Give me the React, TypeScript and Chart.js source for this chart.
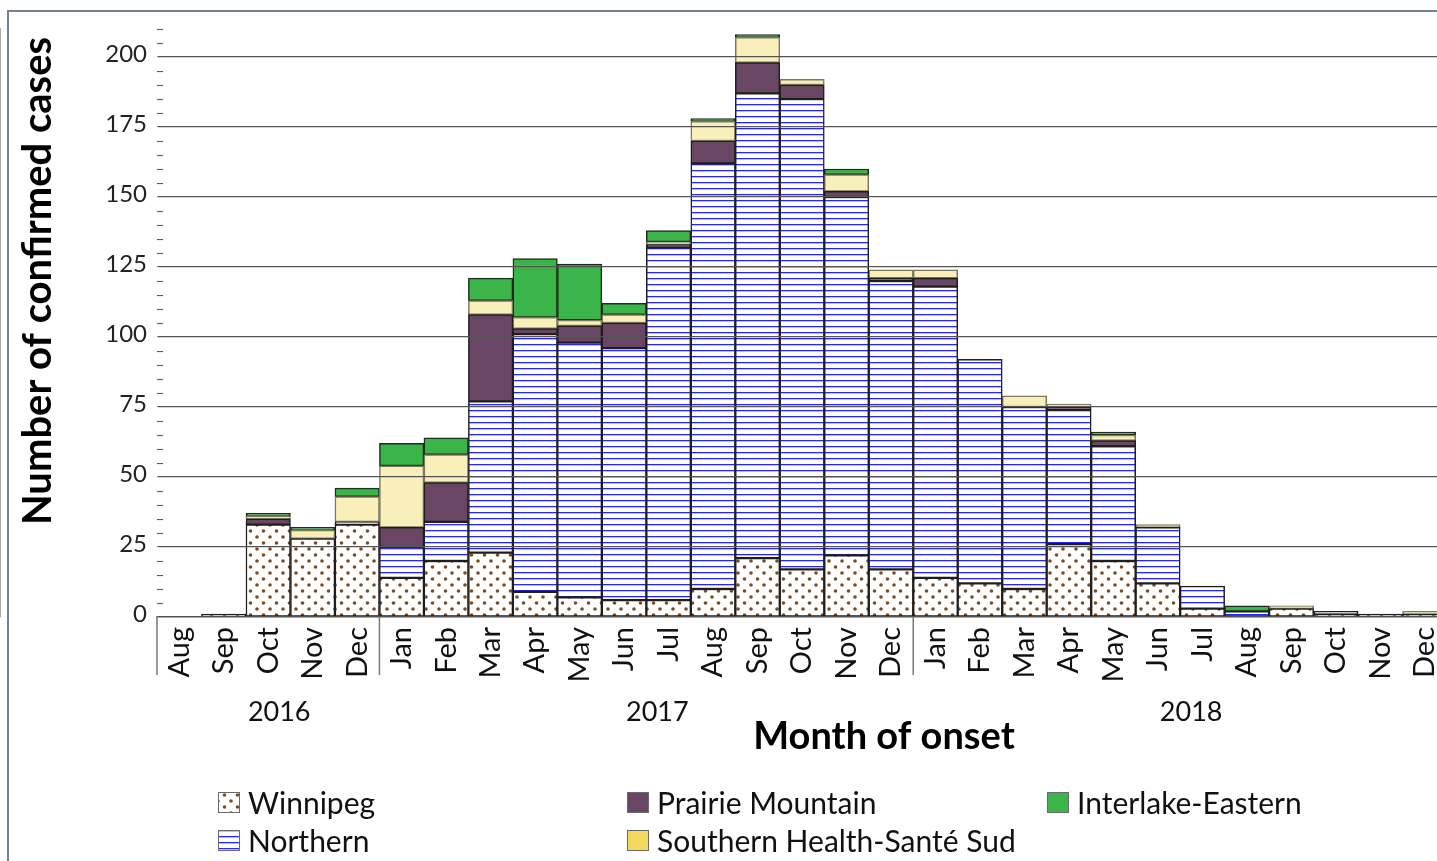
import React, { useEffect, useRef } from "react";
import { Chart, registerables } from "chart.js";

Chart.register(...registerables);

const months = ["Aug", "Sep", "Oct", "Nov", "Dec", "Jan", "Feb", "Mar", "Apr", "May", "Jun", "Jul", "Aug", "Sep", "Oct", "Nov", "Dec", "Jan", "Feb", "Mar", "Apr", "May", "Jun", "Jul", "Aug", "Sep", "Oct", "Nov", "Dec"];
const yearLabels = ["2016", "2017", "2018"];
const monthsPerYear = [5, 12, 12];

const winnipeg = [0, 1, 33, 28, 33, 14, 20, 23, 9, 7, 6, 6, 10, 21, 17, 22, 17, 14, 12, 10, 26, 20, 12, 3, 0, 3, 1, 1, 1];
const northern = [0, 0, 0, 0, 1, 11, 14, 54, 92, 91, 90, 126, 152, 166, 168, 128, 103, 104, 80, 65, 48, 41, 20, 8, 2, 0, 1, 0, 0];
const prairieMountain = [0, 0, 2, 0, 0, 7, 14, 31, 2, 6, 9, 1, 8, 11, 5, 2, 1, 3, 0, 0, 1, 2, 0, 0, 0, 0, 0, 0, 0];
const southernHealth = [0, 0, 1, 3, 9, 22, 10, 5, 4, 2, 3, 1, 7, 9, 2, 6, 3, 3, 0, 4, 1, 2, 1, 0, 0, 1, 0, 0, 1];
const interlakeEastern = [0, 0, 1, 1, 3, 8, 6, 8, 21, 20, 4, 4, 1, 1, 0, 2, 0, 0, 0, 0, 0, 1, 0, 0, 2, 0, 0, 0, 0];

const yTicks = [0, 25, 50, 75, 100, 125, 150, 175, 200];
const yMax = 210;

const FONT = "Lato";

export default function App() {
  const ref = useRef<HTMLCanvasElement>(null);

  useEffect(() => {
    const canvas = ref.current!;
    const ctx = canvas.getContext("2d")!;

    const dotTile = document.createElement("canvas");
    dotTile.width = 13;
    dotTile.height = 12;
    const dt = dotTile.getContext("2d")!;
    dt.fillStyle = "#ffffff";
    dt.fillRect(0, 0, 13, 12);
    dt.fillStyle = "#7b4a22";
    dt.beginPath();
    dt.arc(3.5, 3, 1.8, 0, Math.PI * 2);
    dt.fill();
    dt.beginPath();
    dt.arc(10, 9, 1.8, 0, Math.PI * 2);
    dt.fill();
    const dotPattern = ctx.createPattern(dotTile, "repeat")!;

    const lineTile = document.createElement("canvas");
    lineTile.width = 8;
    lineTile.height = 6;
    const lt = lineTile.getContext("2d")!;
    lt.fillStyle = "#ffffff";
    lt.fillRect(0, 0, 8, 6);
    lt.fillStyle = "#2525ff";
    lt.fillRect(0, 2, 8, 1.3);
    const linePattern = ctx.createPattern(lineTile, "repeat")!;

    const series = [
      { label: "Winnipeg", data: winnipeg, bg: dotPattern, border: "#1e1e1e", legendBg: dotPattern },
      { label: "Northern", data: northern, bg: linePattern, border: "#1e1e1e", legendBg: linePattern },
      { label: "Prairie Mountain", data: prairieMountain, bg: "#694663", border: "#1e1e1e", legendBg: "#694663" },
      { label: "Southern Health-Santé Sud", data: southernHealth, bg: "#f8efbb", border: "#7d775c", legendBg: "#f2d95e" },
      { label: "Interlake-Eastern", data: interlakeEastern, bg: "#3bb54a", border: "#1e2e1e", legendBg: "#3bb54a" },
    ];

    const legendPos = [
      { x: 218, y: 792 },
      { x: 218, y: 830 },
      { x: 627, y: 792 },
      { x: 627, y: 830 },
      { x: 1047, y: 792 },
    ];

    const decor = {
      id: "decor",
      afterDraw(chart: any) {
        const c = chart.ctx;
        const area = chart.chartArea;
        const xs = chart.scales.x;
        const ys = chart.scales.y;
        c.save();

        // outer frame
        c.fillStyle = "#76828f";
        c.fillRect(7, 10, 2, 900);
        c.fillRect(7, 10, 1600, 2);

        // minor ticks
        c.strokeStyle = "#666";
        c.lineWidth = 1.2;
        for (let v = 0; v <= yMax; v += 5) {
          if (v % 25 === 0) continue;
          const py = Math.round(ys.getPixelForValue(v)) + 0.5;
          c.beginPath();
          c.moveTo(area.left, py);
          c.lineTo(area.left + 6, py);
          c.stroke();
        }

        // separators (below the axis only)
        c.strokeStyle = "#777";
        c.lineWidth = 1.5;
        const sepBottom = 675;
        c.beginPath();
        c.moveTo(area.left, area.bottom);
        c.lineTo(area.left, sepBottom);
        c.stroke();
        let idx = 0;
        c.fillStyle = "#111";
        c.font = `27px ${FONT}`;
        c.textAlign = "center";
        c.textBaseline = "middle";
        yearLabels.forEach((yl, i) => {
          const start = idx;
          const end = idx + monthsPerYear[i] - 1;
          const cx = (xs.getPixelForValue(start) + xs.getPixelForValue(end)) / 2 + 11;
          c.fillText(yl, cx, 712);
          if (i > 0) {
            const bx = (xs.getPixelForValue(start - 1) + xs.getPixelForValue(start)) / 2;
            c.beginPath();
            c.moveTo(bx, area.bottom);
            c.lineTo(bx, sepBottom);
            c.stroke();
          }
          idx += monthsPerYear[i];
        });

        // x title
        c.font = `bold 38px ${FONT}`;
        c.fillStyle = "#000";
        c.fillText("Month of onset", 884, 737);

        // y title
        c.save();
        c.translate(38, 281);
        c.rotate(-Math.PI / 2);
        c.font = `bold 40px ${FONT}`;
        c.fillText("Number of confirmed cases", 0, 0);
        c.restore();

        // legend
        c.textAlign = "left";
        c.font = `30px ${FONT}`;
        series.forEach((s, i) => {
          const p = legendPos[i];
          c.fillStyle = s.legendBg as any;
          c.fillRect(p.x, p.y, 22, 21);
          c.strokeStyle = "#6a6a6a";
          c.lineWidth = 1;
          c.strokeRect(p.x + 0.5, p.y + 0.5, 21, 20);
          c.fillStyle = "#111";
          c.fillText(s.label, p.x + 30, p.y + 12);
        });
        c.restore();
      },
    };

    const chart = new Chart(ctx, {
      type: "bar",
      data: {
        labels: months,
        datasets: series.map((s) => ({
          label: s.label,
          data: s.data,
          backgroundColor: s.bg as any,
          borderColor: s.border,
          borderWidth: 1.5,
          borderSkipped: false,
          barPercentage: 1,
          categoryPercentage: 1,
        })),
      },
      options: {
        responsive: false,
        animation: false,
        devicePixelRatio: 1,
        layout: { padding: { left: 0, top: 29, right: 22, bottom: 0 } },
        plugins: { legend: { display: false }, tooltip: { enabled: false } },
        scales: {
          x: {
            stacked: true,
            grid: { display: false, drawTicks: false },
            border: { display: true, color: "#8c8c8c", width: 1.5 },
            ticks: {
              autoSkip: false,
              maxRotation: 90,
              minRotation: 90,
              padding: 10,
              color: "#111",
              font: { family: FONT, size: 29 },
            },
            afterFit: (s: any) => {
              s.height = 244;
            },
          },
          y: {
            stacked: true,
            min: 0,
            max: yMax,
            afterBuildTicks: (s: any) => {
              s.ticks = yTicks.map((v) => ({ value: v }));
            },
            grid: { color: "#555", lineWidth: 1.3, drawTicks: false, z: 1 },
            border: { display: true, color: "#8c8c8c", width: 1.5 },
            ticks: {
              padding: 10,
              color: "#222",
              labelOffset: -3,
              font: { family: FONT, size: 24 },
            },
            afterFit: (s: any) => {
              s.width = 157;
            },
          },
        },
      },
      plugins: [decor],
    });

    return () => chart.destroy();
  }, []);

  return (
    <div style={{ position: "fixed", left: 0, top: 0, width: 1437, height: 861, overflow: "hidden", background: "#fff" }}>
      <canvas ref={ref} width={1470} height={861} style={{ width: 1470, height: 861, display: "block" }} />
    </div>
  );
}
